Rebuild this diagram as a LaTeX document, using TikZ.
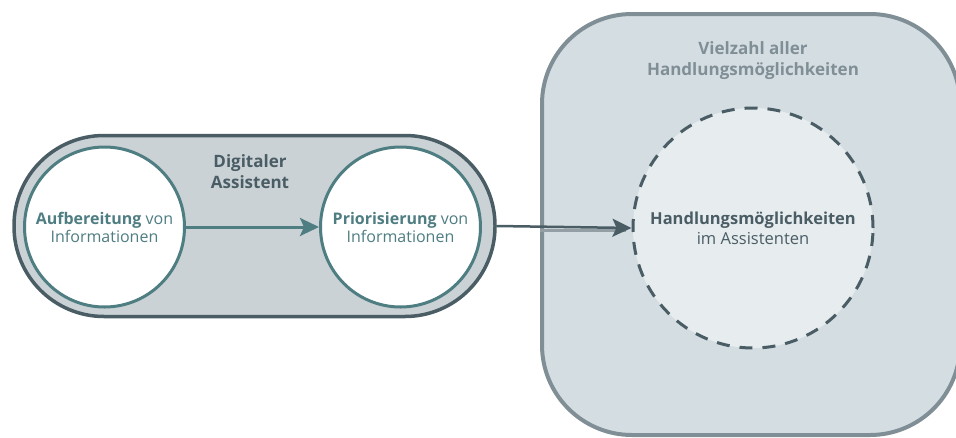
\documentclass[tikz,border=0pt]{standalone}
\usepackage{fontspec}
\setmainfont{Open Sans}
\usepackage{tikz}
\usetikzlibrary{arrows.meta,positioning,calc}
\definecolor{assistteal}{HTML}{4E7D82}
\definecolor{slatedark}{HTML}{4A5D65}
\definecolor{pillfill}{HTML}{CAD2D5}
\definecolor{boxfill}{HTML}{D4DDE2}
\definecolor{boxline}{HTML}{808F96}
\definecolor{optionfill}{HTML}{E7ECEF}
\definecolor{shadowgray}{HTML}{939FA5}
\tikzset{
  assistentbox/.style={draw=slatedark,fill=pillfill,line width=3.5pt,rounded corners=90pt,
    minimum width=481pt,minimum height=181pt},
  allbox/.style={draw=boxline,fill=boxfill,line width=4pt,rounded corners=90pt,
    minimum width=418pt,minimum height=421pt},
  infocircle/.style={circle,draw=assistteal,fill=white,line width=3pt,minimum size=160pt,
    inner sep=0pt,align=center,text=assistteal,font=\fontsize{16}{18}\selectfont},
  optioncircle/.style={circle,draw=slatedark,fill=optionfill,line width=3pt,
    dash pattern=on 13pt off 10pt,minimum size=240pt,inner sep=0pt,align=center,
    text=slatedark,font=\fontsize{16.5}{20}\selectfont},
  flowarrow/.style={-{Stealth[length=19pt,width=18pt,inset=4pt]},line width=3pt,draw=assistteal},
  outerarrow/.style={-{Stealth[length=19pt,width=18pt,inset=4pt]},line width=2.5pt,draw=slatedark},
  shadowline/.style={line width=3pt,draw=shadowgray},
  grouplabel/.style={font=\bfseries\fontsize{17}{21}\selectfont,align=center}
}

\begin{document}
\begin{tikzpicture}[x=1pt,y=-1pt,node distance=133pt]
  \useasboundingbox (0,0) rectangle (956,437);
  \node[allbox] (all) at (751,224.5) {};
  \node[assistentbox] (assist) at (254.5,226) {};
  \node[infocircle] (aufb) at (104.5,227) {\textbf{Aufbereitung} von\\Informationen};
  \node[infocircle,right=of aufb] (prior) {\textbf{Priorisierung} von\\Informationen};
  \node[optioncircle] (option) at (753,228) {\textbf{Handlungsmöglichkeiten}\\im Assistenten};
  \node[grouplabel,text=slatedark] (assistlabel) at (250,172) {Digitaler\\Assistent};
  \node[grouplabel,text=boxline] (alllabel) at (753,61) {Vielzahl aller\\Handlungsmöglichkeiten};
  \draw[flowarrow] (aufb) -- (prior);
  \draw[shadowline] ($(all.west|-option.west)+(0,2.5)$) -- ($(option.west)+(-6,2.5)$);
  \draw[outerarrow] (assist.east) -- (option.west);
\end{tikzpicture}
\end{document}
